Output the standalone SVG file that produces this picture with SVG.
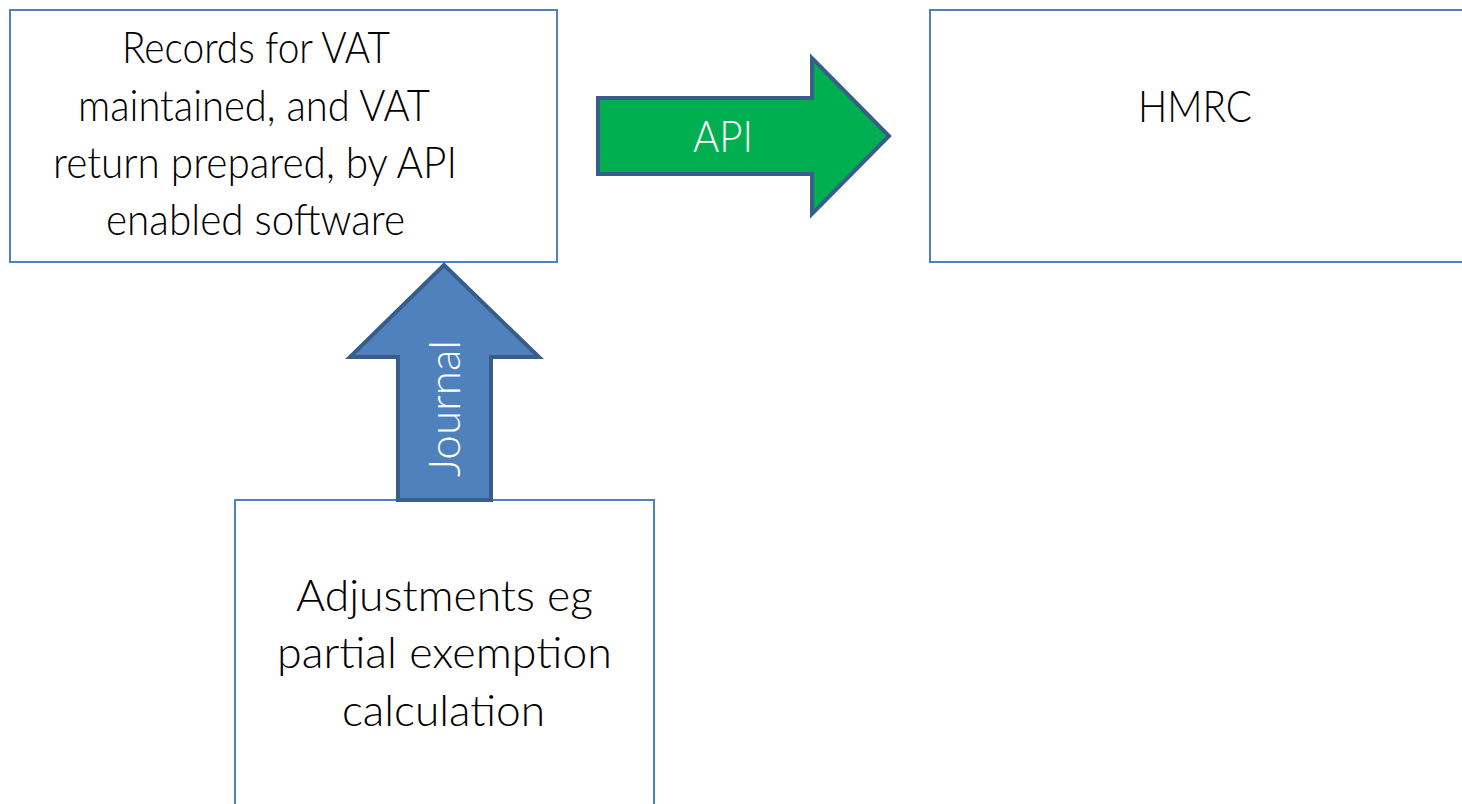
<svg xmlns="http://www.w3.org/2000/svg" width="1462" height="804" viewBox="0 0 1462 804">
<style>
.box{fill:#FFFFFF;stroke:#4F81BD;stroke-width:2}
.t{font-family:Lato,"Open Sans","Liberation Sans",sans-serif;font-weight:300;font-size:43px;fill:#000000;text-anchor:middle}
.w{fill:#FFFFFF}
.arrow{stroke:#385D8A;stroke-width:4;stroke-linejoin:miter}
</style>
<rect width="1462" height="804" fill="#FFFFFF"/>
<g id="node-records">
<rect class="box" x="10" y="10" width="547" height="252"/>
<text class="t" x="256" y="63" textLength="268" lengthAdjust="spacingAndGlyphs">Records for VAT</text>
<text class="t" x="254" y="121" textLength="352" lengthAdjust="spacingAndGlyphs">maintained, and VAT</text>
<text class="t" x="255" y="178" textLength="404" lengthAdjust="spacingAndGlyphs">return prepared, by API</text>
<text class="t" x="255.5" y="235" textLength="299" lengthAdjust="spacingAndGlyphs">enabled software</text>
</g>
<g id="node-hmrc">
<rect class="box" x="930" y="10" width="540" height="252"/>
<text class="t" x="1195" y="122" textLength="114" lengthAdjust="spacingAndGlyphs">HMRC</text>
</g>
<g id="node-adjustments">
<rect class="box" x="235" y="500" width="419" height="320"/>
<text class="t" x="444.5" y="611" textLength="297" lengthAdjust="spacingAndGlyphs">Adjustments eg</text>
<text class="t" x="444.5" y="668" textLength="335" lengthAdjust="spacingAndGlyphs">partial exemption</text>
<text class="t" x="443.5" y="726" textLength="203" lengthAdjust="spacingAndGlyphs">calculation</text>
</g>
<g id="connectors">
<g id="arrow-api">
<path class="arrow" fill="#00B050" d="M598,98 L812,98 L812,58 L889,136 L812,214 L812,174 L598,174 Z"/>
<text class="t w" x="723" y="152" textLength="60" lengthAdjust="spacingAndGlyphs">API</text>
</g>
<g id="arrow-journal">
<path class="arrow" fill="#4F81BD" d="M444,265 L539,357 L491,357 L491,500 L398,500 L398,357 L350,357 Z"/>
<text class="t w" transform="translate(460,408.5) rotate(-90)" x="0" y="0" textLength="137" lengthAdjust="spacingAndGlyphs">Journal</text>
</g>
</g>
</svg>
